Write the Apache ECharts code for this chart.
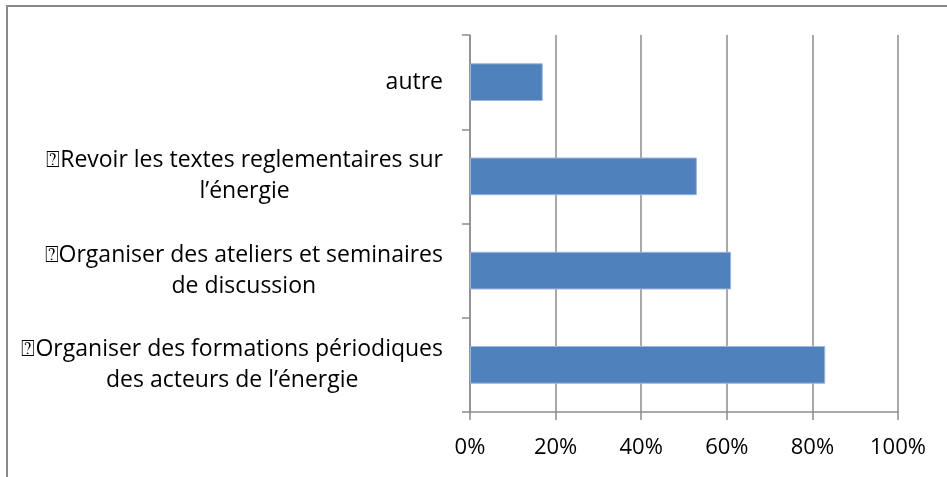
<!DOCTYPE html>
<html>
<head>
<meta charset="utf-8">
<script src="https://cdn.jsdelivr.net/npm/echarts@6/dist/echarts.min.js"></script>
<style>
  html, body { margin: 0; padding: 0; background: #fff; }
  #chart { width: 947px; height: 477px; }
</style>
</head>
<body>
<div id="chart"></div>
<script>
// categories from bottom to top
var categories = [
  '\u2370Organiser des formations périodiques\ndes acteurs de l’énergie',
  '\u2370Organiser des ateliers et seminaires\nde discussion',
  '\u2370Revoir les textes reglementaires sur\nl’énergie',
  'autre'
];
var values = [83, 61, 53, 17];
var xTicks = [0, 20, 40, 60, 80, 100];

var chart = echarts.init(document.getElementById('chart'));

var axisColor = '#8c8c8c';
var font = '"Open Sans", "DejaVu Sans", sans-serif';

chart.setOption({
  animation: false,
  grid: {
    left: 470,
    right: 49,
    top: 35,
    bottom: 65
  },
  graphic: [{
    type: 'rect',
    shape: { x: 7, y: 6, width: 980, height: 520 },
    style: { fill: 'none', stroke: '#898989', lineWidth: 2 }
  }],
  xAxis: {
    type: 'value',
    min: xTicks[0],
    max: xTicks[xTicks.length - 1],
    interval: 20,
    axisLine: { show: true, lineStyle: { color: axisColor, width: 1.5 } },
    axisTick: { show: true, length: 8, lineStyle: { color: axisColor, width: 1.5 } },
    splitLine: { show: true, lineStyle: { color: axisColor, width: 1.5 } },
    axisLabel: {
      formatter: '{value}%',
      color: '#000',
      fontFamily: font,
      fontSize: 22,
      margin: 25
    }
  },
  yAxis: {
    type: 'category',
    data: categories,
    axisLine: { show: true, lineStyle: { color: axisColor, width: 1.5 } },
    axisTick: { show: true, length: 8, alignWithLabel: false, lineStyle: { color: axisColor, width: 1.5 } },
    axisLabel: {
      color: '#000',
      fontFamily: font,
      fontSize: 23,
      margin: 27,
      align: 'right',
      lineHeight: 31,
      formatter: function (v) {
        return v.split('\n').map(function (s) { return '{c|' + s + '}'; }).join('\n');
      },
      rich: {
        c: {
          align: 'center',
          color: '#000',
          fontFamily: font,
          fontSize: 23,
          lineHeight: 31
        }
      }
    }
  },
  series: [{
    type: 'bar',
    data: values,
    barCategoryGap: '60%',
    itemStyle: {
      color: '#4f81bd',
      borderColor: '#9db6dc',
      borderWidth: 1
    }
  }]
});
</script>
</body>
</html>
